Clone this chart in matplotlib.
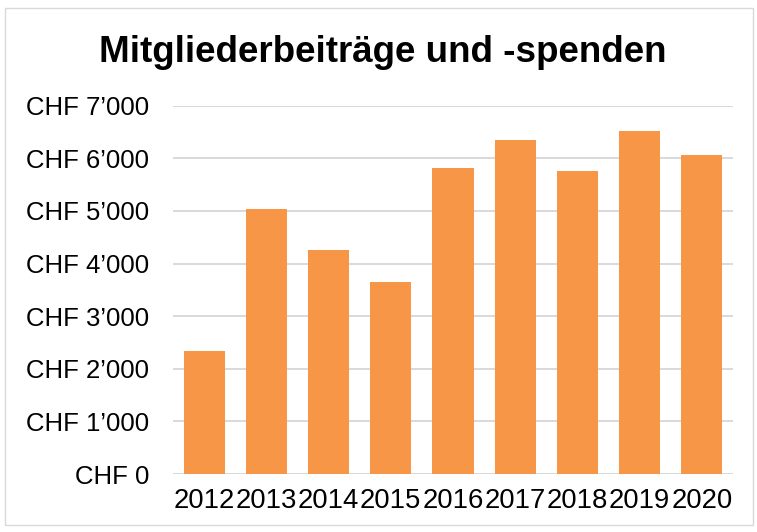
import matplotlib
matplotlib.use("Agg")
import matplotlib.pyplot as plt
from matplotlib.patches import Rectangle
from matplotlib.ticker import FuncFormatter

years = ["2012", "2013", "2014", "2015", "2016", "2017", "2018", "2019", "2020"]
values = [2340, 5030, 4250, 3650, 5810, 6350, 5750, 6525, 6070]
yticks = [0, 1000, 2000, 3000, 4000, 5000, 6000, 7000]
title = "Mitgliederbeiträge und -spenden"

plt.rcParams['font.family'] = ['Liberation Sans', 'DejaVu Sans']

fig = plt.figure(figsize=(7.57, 5.32), dpi=100)
ax = fig.add_axes([173/757, 1 - 474/532, (733 - 173)/757, (474 - 105.7)/532])

x = list(range(len(years)))
ax.bar(x, values, width=0.66, color='#F79646', zorder=3)

ax.set_xlim(-0.5, len(years) - 0.5)
ax.set_ylim(0, 7000)
ax.set_yticks(yticks)

def fmt(v, pos):
    v = int(round(v))
    if v == 0:
        return "CHF 0"
    return "CHF {}\u2019{:03d}".format(v // 1000, v % 1000)

ax.yaxis.set_major_formatter(FuncFormatter(fmt))
ax.set_xticks(x)
ax.set_xticklabels(years)

ax.grid(axis='y', color='#d9d9d9', linewidth=1.4, zorder=0)
ax.set_axisbelow(True)
for s in ax.spines.values():
    s.set_visible(False)
ax.tick_params(axis='both', length=0, labelsize=18.5, colors='black')
ax.tick_params(axis='x', labelsize=19.8, pad=10)
ax.tick_params(axis='y', pad=17)

fig.text(0.505, 1 - 53/532, title, ha='center', va='center',
         fontsize=26.5, fontweight='bold', color='black')

fig.patches.append(Rectangle((5/757, 1 - 525/532), 748/757, 517/532,
                             transform=fig.transFigure, fill=False,
                             edgecolor='#d9d9d9', linewidth=1.0))

fig.savefig("out.png", dpi=100)
